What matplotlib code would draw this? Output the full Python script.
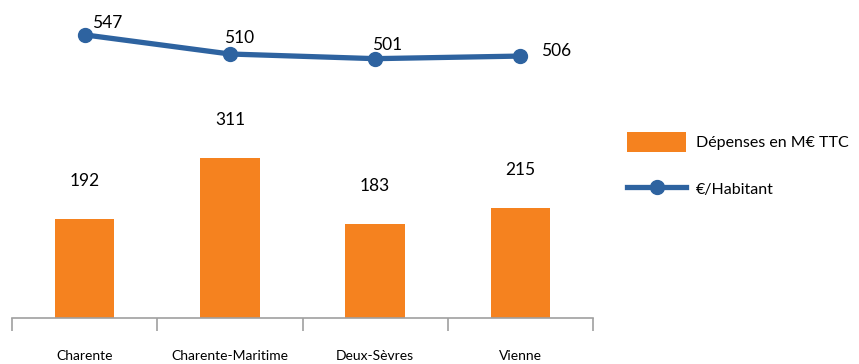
import matplotlib
matplotlib.use("Agg")
import matplotlib.pyplot as plt
import numpy as np

departements = ["Charente", "Charente-Maritime", "Deux-Sèvres", "Vienne"]
depenses = [192, 311, 183, 215]
par_habitant = [547, 510, 501, 506]

orange = "#F5821F"
bleu = "#2E63A0"
plt.rcParams["font.family"] = ["Lato", "DejaVu Sans"]

fig = plt.figure(figsize=(8.59, 3.64), dpi=100)
ax = fig.add_axes([12 / 859, 46 / 364, 581 / 859, 308 / 364])
x = np.arange(len(departements))

ax.bar(x, depenses, width=0.41, color=orange, label="Dépenses en M€ TTC")
for xi, v in zip(x, depenses):
    ax.annotate(str(v), (xi, v), xytext=(0, 38), textcoords="offset pixels",
                ha="center", va="center", fontsize=12.5)

ax2 = ax.twinx()
ax2.plot(x, par_habitant, color=bleu, lw=3.8, marker="o", ms=10,
         label="€/Habitant")
label_offsets = [(23, 12), (9, 16), (12, 14), (36, 5)]
for xi, v, off in zip(x, par_habitant, label_offsets):
    ax2.annotate(str(v), (xi, v), xytext=off, textcoords="offset pixels",
                 ha="center", va="center", fontsize=12.5)

for a, top in ((ax, 600), (ax2, 595)):
    a.set_ylim(0, top)
    a.set_xlim(-0.5, len(departements) - 0.5)
    a.set_yticks([])
    for s in ("top", "right", "left"):
        a.spines[s].set_visible(False)
ax2.spines["bottom"].set_visible(False)
ax.spines["bottom"].set_color("#A0A0A0")
ax.spines["bottom"].set_linewidth(1.2)

ax.set_xticks(x)
ax.set_xticklabels(departements, fontsize=10)
ax.tick_params(axis="x", which="major", length=0, pad=23)
ax.set_xticks(np.arange(len(departements) + 1) - 0.5, minor=True)
ax.tick_params(axis="x", which="minor", length=9, width=1.2, color="#A0A0A0")

handles = ax.get_legend_handles_labels()[0] + ax2.get_legend_handles_labels()[0]
fig.legend(handles, [h.get_label() for h in handles], loc="upper left",
           bbox_to_anchor=(613 / 859, 1 - 118 / 364), frameon=False,
           fontsize=11.5, handlelength=3.7, handleheight=1.5,
           labelspacing=1.7, handletextpad=0.6)

fig.savefig("out.png", dpi=100)
